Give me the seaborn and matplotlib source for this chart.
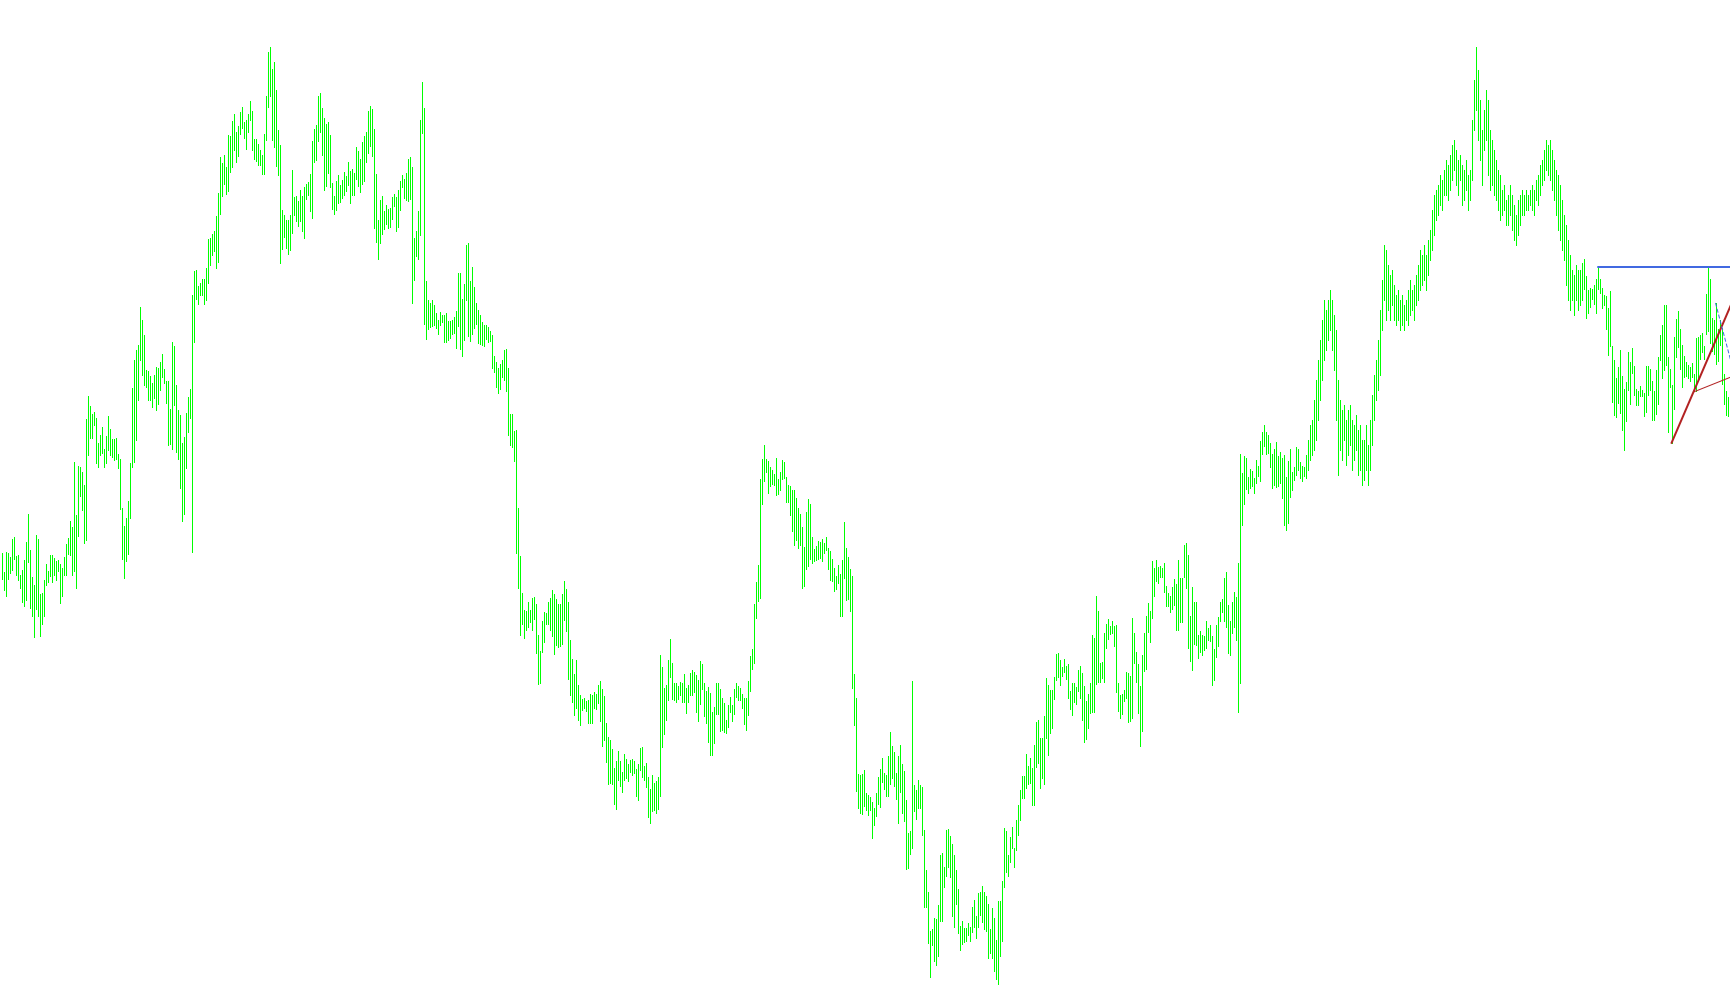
import numpy as np
import pandas as pd
import matplotlib
matplotlib.use("Agg")
import matplotlib.pyplot as plt
import seaborn as sns

# bar highs / lows (price points), one bar per index
bar_high = [
    # 0-71
    447, 428, 448, 447, 443, 461, 463, 444, 445, 425,
    430, 440, 458, 486, 450, 423, 415, 465, 461, 406,
    407, 420, 436, 429, 445, 445, 442, 439, 440, 436,
    432, 443, 456, 462, 479, 473, 538, 485, 534, 533,
    528, 515, 581, 604, 594, 586, 588, 582, 557, 565,
    573, 551, 564, 584, 571, 561, 561, 562, 546, 541,
    492, 474, 482, 499, 537, 612, 640, 650, 655, 693,
    680, 665,
    # 72-144
    630, 629, 624, 617, 625, 633, 632, 638, 646, 631,
    619, 619, 591, 658, 654, 615, 590, 585, 557, 563,
    587, 603, 611, 705, 729, 730, 714, 717, 721, 721,
    732, 761, 762, 766, 769, 784, 807, 843, 837, 845,
    833, 865, 864, 879, 886, 868, 874, 888, 893, 878,
    880, 886, 899, 889, 861, 861, 856, 850, 845, 866,
    904, 948, 953, 931, 938, 910, 870, 855, 790, 785,
    780, 780, 785,
    # 145-216
    830, 803, 804, 799, 810, 804, 813, 816, 818, 826,
    859, 871, 875, 904, 907, 892, 882, 876, 878, 865,
    817, 804, 819, 825, 815, 820, 828, 824, 838, 829,
    831, 827, 853, 849, 841, 858, 864, 868, 889, 894,
    891, 871, 826, 780, 800, 804, 789, 795, 791, 792,
    803, 806, 803, 810, 819, 825, 821, 827, 841, 843,
    833, 762, 769, 789, 880, 918, 892, 719, 700, 697,
    700, 695,
    # 217-289
    687, 680, 688, 685, 685, 687, 679, 679, 680, 683,
    689, 727, 727, 701, 716, 755, 757, 719, 733, 713,
    697, 690, 685, 678, 675, 675, 673, 669, 665, 644,
    638, 632, 636, 640, 650, 651, 632, 586, 586, 569,
    570, 492, 444, 407, 390, 389, 398, 390, 402, 403,
    396, 365, 349, 379, 388, 387, 398, 402, 410, 406,
    401, 396, 396, 406, 419, 411, 398, 360, 341, 326,
    340, 315, 305,
    # 290-361
    301, 302, 299, 300, 306, 305, 308, 306, 315, 319,
    311, 304, 277, 263, 260, 251, 232, 239, 249, 239,
    228, 246, 241, 236, 240, 241, 239, 231, 236, 252,
    253, 234, 237, 223, 211, 225, 217, 219, 223, 345,
    333, 312, 315, 340, 361, 337, 317, 317, 314, 318,
    317, 326, 312, 315, 327, 330, 328, 325, 320, 339,
    336, 317, 309, 313, 307, 288, 293, 317, 317, 311,
    302, 297,
    # 362-434
    280, 295, 303, 295, 311, 317, 314, 312, 306, 302,
    302, 319, 344, 351, 396, 418, 435, 521, 541, 555,
    541, 539, 533, 530, 526, 542, 521, 528, 540, 538,
    523, 515, 514, 510, 510, 502, 492, 486, 473, 453,
    488, 501, 496, 463, 451, 454, 459, 458, 461, 457,
    463, 452, 449, 441, 432, 424, 435, 426, 440, 478,
    452, 443, 431, 424, 326, 302, 226, 225, 226, 230,
    207, 205, 203,
    # 435-509
    198, 192, 207, 223, 231, 242, 227, 225, 244, 268,
    254, 248, 227, 244, 255, 236, 229, 200, 167, 169,
    319, 215, 210, 220, 215, 213, 170, 130, 108, 69,
    71, 82, 81, 95, 145, 147, 133, 170, 171, 164,
    156, 145, 130, 111, 74, 79, 72, 72, 77, 73,
    93, 100, 84, 107, 108, 114, 108, 104, 96, 71,
    92, 82, 60, 99, 99, 119, 172, 169, 145, 163,
    173, 152, 180, 195, 210,
    # 510-579
    224, 224, 246, 234, 242, 232, 255, 278, 280, 262,
    262, 284, 322, 315, 310, 310, 323, 346, 347, 340,
    333, 341, 334, 336, 309, 317, 317, 313, 330, 334,
    327, 314, 299, 306, 317, 365, 362, 404, 389, 337,
    338, 367, 376, 381, 374, 379, 374, 375, 317, 305,
    306, 310, 328, 327, 324, 382, 367, 348, 336, 314,
    345, 367, 384, 397, 389, 439, 432, 440, 433, 434,
    # 580-651
    432, 437, 414, 407, 404, 413, 421, 416, 440, 422,
    422, 455, 457, 445, 384, 413, 398, 398, 365, 369,
    365, 364, 379, 372, 375, 364, 351, 375, 383, 398,
    401, 422, 428, 395, 379, 398, 408, 403, 437, 546,
    527, 544, 542, 523, 531, 529, 522, 540, 534, 559,
    568, 575, 568, 565, 557, 546, 551, 558, 544, 548,
    542, 545, 523, 539, 551, 528, 533, 553, 551, 538,
    534, 533,
    # 652-789
    545, 560, 575, 580, 600, 620, 640, 660, 680, 700,
    690, 700, 710, 700, 685, 670, 620, 600, 590, 595,
    580, 590, 595, 580, 575, 585, 570, 575, 560, 560,
    575, 555, 580, 605, 625, 640, 660, 690, 720, 755,
    750, 735, 725, 730, 715, 705, 710, 700, 705, 695,
    700, 710, 720, 710, 715, 725, 735, 750, 745, 755,
    745, 760, 770, 790, 805, 810, 815, 825, 820, 830,
    840, 835, 845, 855, 860, 850, 840, 845, 835, 830,
    840, 825, 830, 880, 920, 953, 930, 900, 870, 890,
    910, 900, 870, 860, 850, 840, 830, 825, 810, 815,
    800, 805, 815, 805, 795, 785, 800, 805, 810, 805,
    810, 805, 810, 815, 810, 820, 825, 835, 840, 850,
    860, 855, 860, 850, 840, 830, 825, 815, 800, 785,
    775, 760, 745, 730, 725, 735, 730, 730,
    # 790-864
    737, 741, 724, 710, 712, 711, 715, 721, 733, 721,
    712, 705, 704, 692, 709, 654, 640, 622, 633, 650,
    624, 611, 618, 648, 638, 652, 634, 611, 609, 614,
    610, 607, 634, 634, 631, 619, 609, 630, 643, 665,
    675, 695, 695, 643, 631, 615, 663, 681, 689, 671,
    655, 644, 638, 635, 633, 637, 626, 662, 663, 665,
    667, 654, 706, 732, 721, 682, 680, 697, 671, 680,
    672, 626, 609, 603, 601,
]

bar_low = [
    # 0-71
    421, 410, 404, 421, 427, 430, 441, 425, 420, 412,
    398, 394, 400, 438, 392, 384, 363, 391, 384, 364,
    376, 384, 415, 418, 424, 418, 425, 420, 429, 397,
    404, 425, 425, 446, 445, 425, 429, 412, 464, 504,
    490, 457, 460, 545, 562, 562, 575, 537, 533, 545,
    547, 533, 537, 550, 545, 543, 540, 541, 532, 491,
    441, 422, 439, 446, 482, 533, 538, 560, 600, 640,
    625, 615,
    # 72-144
    613, 600, 600, 593, 602, 590, 596, 610, 623, 617,
    597, 555, 556, 551, 595, 548, 541, 512, 479, 486,
    532, 568, 582, 448, 658, 701, 696, 705, 705, 696,
    700, 717, 735, 745, 749, 732, 738, 786, 804, 816,
    806, 809, 828, 833, 850, 838, 844, 866, 872, 862,
    851, 868, 880, 850, 841, 839, 835, 835, 826, 826,
    860, 893, 904, 860, 853, 834, 825, 737, 751, 763,
    752, 746, 750,
    # 145-216
    767, 785, 779, 774, 779, 769, 762, 801, 805, 789,
    782, 838, 840, 859, 868, 845, 810, 814, 827, 813,
    791, 786, 790, 797, 798, 802, 805, 809, 815, 797,
    805, 805, 821, 814, 808, 816, 819, 838, 847, 854,
    844, 772, 758, 741, 757, 766, 771, 776, 772, 773,
    781, 794, 769, 773, 790, 813, 802, 800, 799, 801,
    697, 720, 744, 741, 765, 867, 676, 661, 671, 673,
    674, 675,
    # 217-289
    672, 666, 675, 678, 658, 658, 660, 662, 666, 667,
    652, 674, 651, 644, 660, 700, 664, 659, 666, 672,
    676, 657, 656, 655, 654, 661, 658, 659, 632, 628,
    613, 607, 611, 623, 620, 609, 565, 555, 553, 539,
    447, 412, 365, 376, 362, 370, 373, 378, 370, 381,
    347, 316, 317, 348, 358, 376, 376, 370, 364, 346,
    355, 353, 354, 356, 380, 369, 321, 305, 298, 285,
    292, 280, 275,
    # 290-361
    290, 292, 289, 277, 277, 277, 292, 291, 297, 279,
    254, 260, 238, 216, 217, 216, 196, 191, 220, 214,
    208, 220, 222, 219, 228, 225, 227, 204, 200, 230,
    223, 220, 213, 183, 177, 189, 190, 187, 191, 204,
    253, 266, 280, 300, 323, 301, 300, 298, 301, 305,
    298, 298, 287, 298, 305, 305, 308, 288, 279, 296,
    311, 284, 277, 258, 245, 245, 257, 286, 286, 269,
    270, 268,
    # 362-434
    267, 273, 288, 279, 286, 303, 300, 300, 292, 276,
    270, 285, 309, 331, 337, 382, 399, 402, 496, 519,
    528, 507, 514, 516, 515, 505, 506, 510, 521, 522,
    498, 498, 485, 469, 455, 460, 452, 455, 412, 414,
    431, 434, 441, 437, 439, 440, 441, 442, 439, 447,
    450, 431, 420, 419, 409, 411, 417, 384, 384, 422,
    400, 401, 389, 312, 275, 209, 192, 187, 186, 194,
    190, 185, 190,
    # 435-509
    162, 175, 184, 196, 193, 218, 211, 204, 204, 216,
    222, 214, 201, 177, 208, 187, 179, 131, 132, 146,
    152, 189, 181, 192, 192, 165, 93, 93, 57, 23,
    55, 39, 35, 44, 79, 79, 113, 124, 133, 123,
    84, 73, 96, 67, 50, 56, 58, 59, 65, 59,
    68, 73, 62, 73, 85, 78, 71, 69, 42, 47,
    42, 29, 21, 16, 44, 59, 113, 128, 124, 138,
    152, 133, 150, 165, 180,
    # 510-579
    202, 202, 212, 216, 217, 195, 195, 233, 237, 212,
    222, 216, 262, 245, 267, 272, 301, 320, 323, 315,
    324, 328, 321, 302, 291, 285, 298, 296, 309, 302,
    280, 258, 261, 272, 287, 288, 288, 316, 318, 318,
    322, 318, 352, 361, 366, 367, 354, 308, 289, 282,
    286, 299, 302, 278, 279, 282, 337, 318, 287, 254,
    269, 329, 331, 368, 358, 382, 404, 419, 417, 423,
    # 580-651
    423, 408, 394, 394, 388, 391, 395, 370, 370, 378,
    378, 423, 412, 352, 339, 330, 356, 355, 342, 348,
    345, 350, 352, 360, 359, 315, 320, 343, 354, 379,
    388, 379, 373, 347, 345, 367, 373, 360, 288, 317,
    475, 496, 511, 507, 512, 514, 507, 517, 524, 519,
    546, 554, 546, 547, 533, 512, 515, 513, 514, 517,
    502, 475, 470, 477, 503, 510, 520, 525, 530, 522,
    519, 524,
    # 652-789
    522, 530, 540, 545, 550, 560, 580, 600, 620, 640,
    650, 660, 670, 650, 630, 580, 525, 550, 540, 560,
    535, 545, 555, 530, 540, 550, 525, 530, 515, 520,
    530, 515, 530, 555, 580, 600, 610, 625, 670, 700,
    680, 690, 680, 695, 680, 675, 680, 670, 675, 670,
    680, 675, 685, 690, 680, 695, 700, 710, 715, 720,
    710, 725, 740, 750, 765, 780, 785, 795, 790, 805,
    805, 800, 810, 820, 830, 815, 805, 820, 795, 800,
    810, 790, 800, 820, 870, 890, 860, 840, 815, 850,
    860, 825, 810, 815, 805, 800, 790, 780, 785, 790,
    775, 775, 785, 770, 760, 755, 765, 775, 785, 785,
    790, 790, 795, 790, 785, 800, 795, 805, 815, 820,
    830, 825, 820, 810, 800, 785, 770, 760, 750, 740,
    715, 700, 690, 700, 685, 700, 690, 695,
    # 790-864
    700, 711, 682, 687, 693, 701, 696, 687, 711, 707,
    692, 695, 671, 645, 654, 598, 585, 583, 597, 587,
    570, 550, 579, 610, 596, 627, 605, 595, 595, 604,
    604, 584, 588, 605, 610, 580, 580, 586, 596, 640,
    622, 630, 635, 568, 613, 557, 591, 643, 653, 631,
    613, 623, 624, 622, 619, 623, 609, 609, 622, 641,
    648, 641, 666, 669, 657, 649, 646, 636, 639, 655,
    616, 596, 585, 584, 583,
]

# objects drawn on the chart (bar index, price)
level_x = [798, 866]
level_y = [733, 733]
trend_x = [835, 866]
trend_y = [557, 701]
fan_x = [846, 866]
fan_y = [608, 624]
channel_x = [857, 866]
channel_y = [697, 629]

print(len(bar_high), len(bar_low))
n = min(len(bar_high), len(bar_low))
bars = pd.DataFrame({
    "bar": np.tile(np.arange(n), 2),
    "price": bar_high[:n] + bar_low[:n],
})

sns.set_style("white")
fig = plt.figure(figsize=(17.3, 10.05), dpi=100)
ax = fig.add_axes([0, 0, 1, 1])

px = 72 / 100  # one pixel in points
sns.lineplot(data=bars, x="bar", y="price", units="bar", estimator=None,
             color="#00FF00", lw=px, antialiased=False, ax=ax)

sns.lineplot(x=level_x, y=level_y, color="#4169E1", lw=2 * px, ax=ax)
sns.lineplot(x=trend_x, y=trend_y, color="#B22222", lw=2 * px, ax=ax)
sns.lineplot(x=fan_x, y=fan_y, color="#B22222", lw=px, ax=ax)
sns.lineplot(x=channel_x, y=channel_y, color="#4169E1", lw=px,
             dashes=(4, 2), ax=ax)

ax.set_xlim(-0.75, 864.25)
ax.set_ylim(-5, 1000)
ax.axis("off")

fig.savefig("out.png", dpi=100, facecolor="white")
